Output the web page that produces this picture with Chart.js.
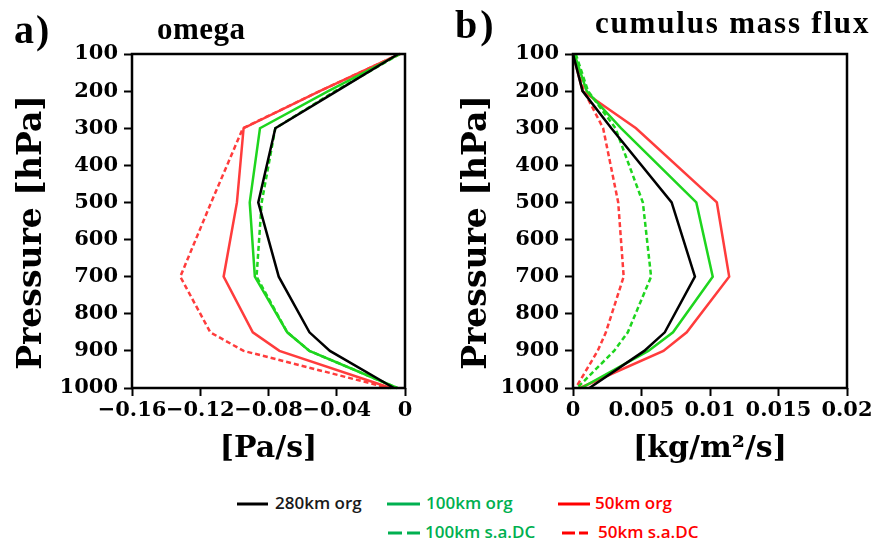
<!DOCTYPE html>
<html><head><meta charset="utf-8">
<script src="https://cdn.jsdelivr.net/npm/chart.js@4.4.1/dist/chart.umd.min.js"></script>
<style>
html,body{margin:0;padding:0;background:#fff;}
body{width:874px;height:547px;overflow:hidden;position:relative;}
canvas{position:absolute;top:0;}
.t{position:absolute;font-family:"Liberation Serif",serif;font-weight:bold;color:#000;white-space:nowrap;line-height:1;}
.lg{position:absolute;font-family:"Open Sans",sans-serif;font-weight:600;font-size:17px;white-space:nowrap;line-height:1;}
svg{position:absolute;}
</style></head>
<body>
<canvas id="c1" width="437" height="480" style="left:0"></canvas>
<canvas id="c2" width="437" height="480" style="left:437px"></canvas>

<div class="t" style="left:14px;top:10px;font-size:40px;letter-spacing:2px">a)</div>
<div class="t" style="left:455px;top:5px;font-size:40px;letter-spacing:3px">b)</div>
<div class="t" style="left:157px;top:13px;font-size:31px;letter-spacing:0.5px">omega</div>
<div class="t" style="left:595px;top:7px;font-size:31px;letter-spacing:1.8px">cumulus mass flux</div>

<svg style="left:237px;top:500px" width="32" height="8"><line x1="0" y1="4" x2="31" y2="4" stroke="#000" stroke-width="3"/></svg>
<div class="lg" style="left:275px;top:494px;color:#1a1a1a">280km org</div>
<svg style="left:387px;top:500px" width="34" height="8"><line x1="0" y1="4" x2="33" y2="4" stroke="#00b050" stroke-width="3"/></svg>
<div class="lg" style="left:426px;top:494px;color:#00b050">100km org</div>
<svg style="left:558px;top:500px" width="33" height="8"><line x1="0" y1="4" x2="32" y2="4" stroke="#ff0000" stroke-width="3"/></svg>
<div class="lg" style="left:595px;top:494px;color:#ff0000">50km org</div>
<svg style="left:388px;top:529px" width="33" height="8"><line x1="0" y1="4" x2="32" y2="4" stroke="#00b050" stroke-width="3" stroke-dasharray="14 5"/></svg>
<div class="lg" style="left:425px;top:523px;color:#00b050">100km s.a.DC</div>
<svg style="left:562px;top:529px" width="27" height="8"><line x1="0" y1="4" x2="26" y2="4" stroke="#ff0000" stroke-width="3" stroke-dasharray="13 4"/></svg>
<div class="lg" style="left:598px;top:523px;color:#ff0000">50km s.a.DC</div>

<script>
// ---- data ----
const levels = [100, 200, 300, 500, 700, 850, 900, 1000];   // hPa

// a) omega [Pa/s]
const omega280org  = [-0.004, -0.040, -0.076, -0.086, -0.074, -0.056, -0.044, -0.0065];
const omega100org  = [-0.003, -0.045, -0.085, -0.091, -0.088, -0.069, -0.056, -0.0045];
const omega100sadc = [-0.003, -0.041, -0.076, -0.084, -0.087, -0.069, -0.056, -0.0045];
const omega50org   = [-0.003, -0.050, -0.0946, -0.0985, -0.1063, -0.0892, -0.0736, -0.0083];
const omega50sadc  = [-0.003, -0.050, -0.095, -0.1136, -0.1317, -0.1141, -0.0946, -0.0095];

// b) cumulus mass flux [kg/m2/s]
const cmf280org  = [0.0000, 0.0007, 0.0028, 0.0072, 0.0089, 0.0067, 0.0052, 0.0012];
const cmf100org  = [0.0001, 0.0010, 0.0035, 0.0090, 0.0102, 0.0073, 0.0055, 0.0006];
const cmf100sadc = [0.0002, 0.0011, 0.0031, 0.0051, 0.0057, 0.0040, 0.0030, 0.0003];
const cmf50org   = [0.0000, 0.0007, 0.0046, 0.0105, 0.0114, 0.0083, 0.0066, 0.0005];
const cmf50sadc  = [0.0000, 0.0008, 0.0022, 0.0033, 0.0037, 0.0024, 0.0018, 0.0002];

// ticks
const yTickValues = [100, 200, 300, 400, 500, 600, 700, 800, 900, 1000];
const yTickLabels = ['100','200','300','400','500','600','700','800','900','1000'];
const omegaTickValues = [-0.16, -0.12, -0.08, -0.04, 0];
const omegaTickLabels = ['\u22120.16', '\u22120.12', '\u22120.08', '\u22120.04', '0'];
const cmfTickValues = [0, 0.005, 0.01, 0.015, 0.02];
const cmfTickLabels = ['0', '0.005', '0.01', '0.015', '0.02'];

const seriesNames = ['280km org', '100km org', '100km s.a.DC', '50km org', '50km s.a.DC'];

// ---- styles ----
const BLACK = '#000000', GREEN = '#1ed51e', RED = '#ff3c3c';
const styles = [
  {color: BLACK, dash: []},
  {color: GREEN, dash: []},
  {color: GREEN, dash: [5, 3]},
  {color: RED, dash: []},
  {color: RED, dash: [5, 3]}
];
const tickFont = {family: 'DejaVu Serif', weight: 'bold', size: 21};
const titleFont = {family: 'DejaVu Serif', weight: 'bold', size: 30};
const yTitleFont = {family: 'DejaVu Serif', weight: 'bold', size: 33};

const framePlugin = {
  id: 'frame',
  afterDraw(chart) {
    const {ctx, chartArea: a} = chart;
    ctx.save();
    ctx.strokeStyle = '#000';
    ctx.lineWidth = 2.5;
    ctx.strokeRect(a.left, a.top, a.right - a.left, a.bottom - a.top);
    ctx.restore();
  }
};

function makeChart(id, seriesList, xVals, xLabels, xMin, xMax, xTitle, yTitlePad, yWidth, rightPad) {
  const datasets = seriesList.map((vals, k) => ({
    label: seriesNames[k],
    data: vals.map((v, i) => ({x: v, y: levels[i]})),
    borderColor: styles[k].color,
    borderDash: styles[k].dash,
    borderWidth: 2.5,
    pointRadius: 0,
    showLine: true,
    fill: false,
    tension: 0
  }));
  return new Chart(document.getElementById(id), {
    type: 'scatter',
    data: {datasets},
    plugins: [framePlugin],
    options: {
      responsive: false,
      animation: false,
      clip: false,
      layout: {padding: {left: 0, top: 54, right: rightPad, bottom: 0}},
      plugins: {legend: {display: false}, tooltip: {enabled: false}, title: {display: false}},
      scales: {
        x: {
          type: 'linear', position: 'bottom', min: xMin, max: xMax,
          afterBuildTicks: s => { s.ticks = xVals.map(v => ({value: v})); },
          afterFit: s => { s.height = 92; s.paddingLeft = 0; s.paddingRight = 0; },
          ticks: {callback: (v, i) => xLabels[i], font: tickFont, color: '#000', padding: 2, maxRotation: 0, autoSkip: false},
          grid: {drawOnChartArea: false, drawTicks: true, tickLength: 8, tickWidth: 2, tickColor: '#000'},
          border: {display: false},
          title: {display: true, text: xTitle, font: titleFont, color: '#000', padding: {top: 0, bottom: 13}}
        },
        y: {
          type: 'linear', position: 'left', reverse: true, min: 100, max: 1000,
          afterBuildTicks: s => { s.ticks = yTickValues.map(v => ({value: v})); },
          afterFit: s => { s.width = yWidth; s.paddingTop = 0; s.paddingBottom = 0; },
          ticks: {callback: (v, i) => yTickLabels[i], font: tickFont, color: '#000', padding: 6, autoSkip: false},
          grid: {drawOnChartArea: false, drawTicks: true, tickLength: 8, tickWidth: 2, tickColor: '#000'},
          border: {display: false},
          title: {display: true, text: 'Pressure [hPa]  ', font: yTitleFont, color: '#000', padding: {top: yTitlePad, bottom: 0}}
        }
      }
    }
  });
}

makeChart('c1', [omega280org, omega100org, omega100sadc, omega50org, omega50sadc],
  omegaTickValues, omegaTickLabels, -0.16, 0, '[Pa/s]', 13, 132, 32);
makeChart('c2', [cmf280org, cmf100org, cmf100sadc, cmf50org, cmf50sadc],
  cmfTickValues, cmfTickLabels, 0, 0.02, '[kg/m\u00B2/s]', 21, 136, 27);
</script>
</body></html>
